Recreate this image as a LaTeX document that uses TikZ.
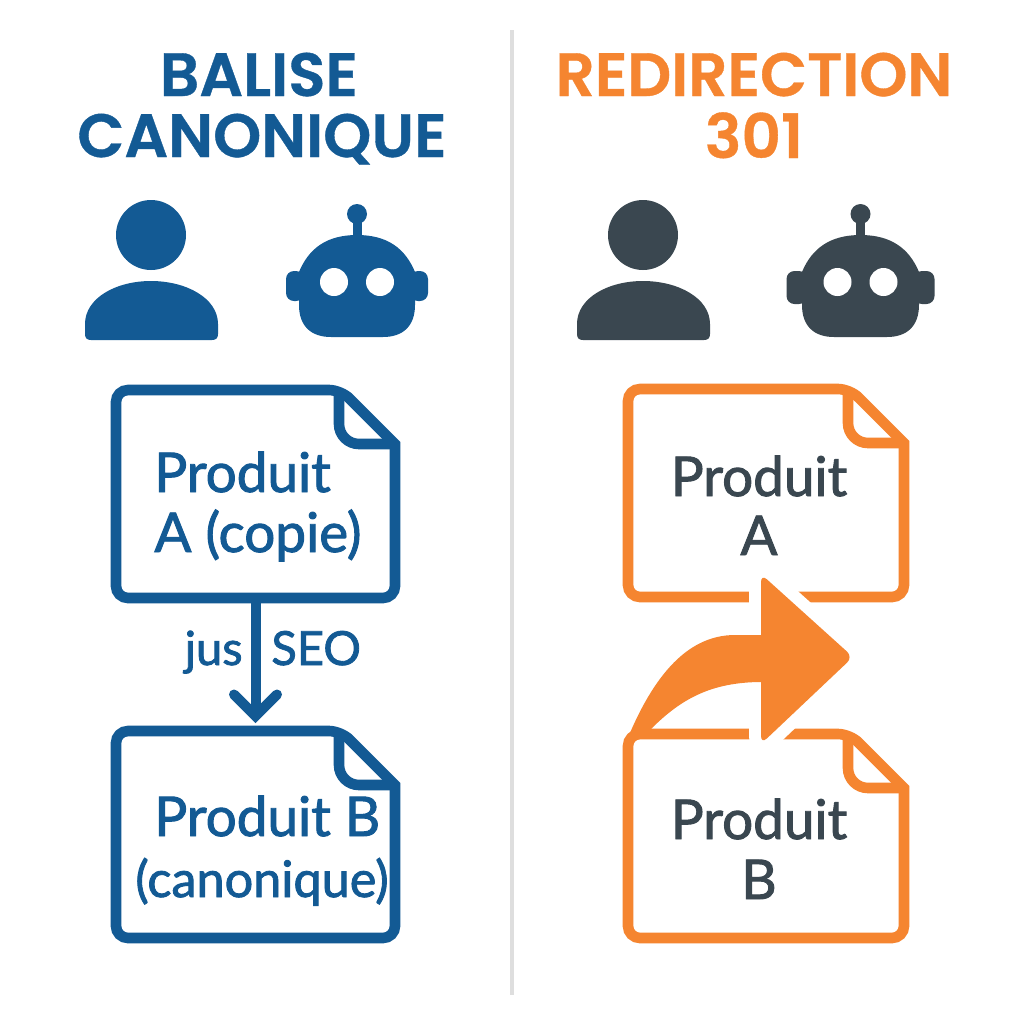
\documentclass[tikz,border=0pt]{standalone}
\usepackage{fontspec}
\newfontfamily\bodyfont{Lato}[RawFeature={embolden=1.7}]
\newfontfamily\titlefont{Poppins SemiBold}[RawFeature={embolden=0.6}]
\definecolor{blu}{HTML}{135A94}
\definecolor{ora}{HTML}{F58530}
\definecolor{drk}{HTML}{3A4750}
\definecolor{divi}{HTML}{DEDEDE}
\tikzset{
 titl/.style={anchor=base,inner sep=0pt,font=\titlefont\fontsize{30.6}{30}\selectfont},
 body/.style={anchor=base,inner sep=0pt,font=\bodyfont\fontsize{27.4}{28}\selectfont},
 lbl/.style={anchor=base,inner sep=0pt,font=\bodyfont\fontsize{23.5}{24}\selectfont},
 docline/.style={line width=5.3pt,line join=miter},
 box/.style={inner sep=0pt,minimum width=144.5pt,minimum height=109pt},
 headpath/.style={rounded corners=4pt},
}
\newcommand{\docshape}[5]{%
 \draw[docline,draw=#5,rounded corners=10pt] ({#3-56},#2) -- ({#3-56},{#2+54}) -- (#3,{#2+54});
 \draw[docline,draw=#5,rounded corners=6pt] ({#3-54},#2) [sharp corners] -- (#3,{#2+54}) [rounded corners=6pt] -- (#3,#4) -- (#1,#4) -- (#1,#2) -- cycle;
}
\newcommand{\personicon}[2]{%
 \fill[#2] (#1,235) circle[radius=35];
 \fill[#2] ({#1-66},334) -- ({#1-66},324) .. controls ({#1-66},298) and ({#1-35},281) .. (#1,281) .. controls ({#1+35},281) and ({#1+67},298) .. ({#1+67},324) -- ({#1+67},334) .. controls ({#1+67},338) and ({#1+65},340) .. ({#1+61},340) -- ({#1-60},340) .. controls ({#1-64},340) and ({#1-66},338) .. ({#1-66},334) -- cycle;
}
\newcommand{\roboticon}[4]{%
 \fill[#2] (#1,214) circle[radius=10];
 \fill[#2] ({#1-4.5},220) rectangle ({#1+4.5},240);
 \fill[#2,rounded corners=4pt] ({#1-#4},271) rectangle ({#1-#3+5},{#4+230});
 \fill[#2,rounded corners=4pt] ({#1+#3-5},271) rectangle ({#1+#4},{#4+230});
 \fill[#2] ({#1-#3},300) -- ({#1-#3},272) .. controls ({#1-#3+10},248) and ({#1-30},235) .. (#1,235) .. controls ({#1+30},235) and ({#1+#3-10},248) .. ({#1+#3},272) -- ({#1+#3},305) .. controls ({#1+#3},326) and ({#1+#3-12},337) .. ({#1+#3-32},337) -- ({#1-#3+32},337) .. controls ({#1-#3+12},337) and ({#1-#3},326) .. ({#1-#3},305) -- cycle;
 \fill[white] ({#1-23},282) circle[radius=14];
 \fill[white] ({#1+23},282) circle[radius=14];
}
\begin{document}
\begin{tikzpicture}[x=0.5pt,y=-0.5pt]
\useasboundingbox (0,0) rectangle (1024,1024);
\fill[white] (0,0) rectangle (1024,1024);
\fill[divi] (510,30) rectangle (514,995);
% titles
\node[titl,text=blu] (t1) at (259,96) {BALISE};
\node[titl,text=blu] (t2) at (262,157) {CANONIQUE};
\node[titl,text=ora] (t3) at (754,96) {REDIRECTION};
\node[titl,text=ora] (t4) at (754,158) {301};
% icons
\personicon{151}{blu}
\roboticon{357}{blu}{58}{71}
\personicon{643}{drk}
\roboticon{860.5}{drk}{58.5}{74}
% left docs
\node[box] (la) at (255.5,494) {};
\node[box] (lb) at (255.5,835) {};
\coordinate (tipl) at (255.5,716);
\docshape{116}{390}{395}{598}{blu}
\docshape{116}{731}{395}{938}{blu}
\draw[line width=5pt,blu] (la.south) -- (tipl);
\draw[line width=5pt,blu,line cap=round,line join=miter] (234,694.5) -- (tipl) -- (277,694.5);
\node[body,text=blu,anchor=base west] (p1) at (154,492) {Produit};
\node[body,text=blu,anchor=base west] (p2) at (154,552) {A (copie)};
\node[body,text=blu,anchor=base west] (p3) at (154,836) {Produit B};
\node[body,text=blu,font=\bodyfont\fontsize{25.2}{26}\selectfont] (p4) at (262,897) {(canonique)};
\node[lbl,text=blu,anchor=base east] (j) at (243,665) {jus};
\node[lbl,text=blu,anchor=base west] (s) at (271,665) {SEO};
% right docs
\docshape{628}{389}{904}{597}{ora}
\docshape{628}{734}{904}{938}{ora}
\draw[white,line width=12pt,line join=round,fill=white,headpath] (761,635) -- (761,574) -- (853,657) -- (761,744) -- (761,682) -- cycle;
\fill[ora,headpath] (761,635) -- (761,574) -- (853,657) -- (761,744) -- (761,682) -- cycle;
\fill[ora] (762,635) -- (735,635) .. controls (685,635) and (650,680) .. (623,750) -- (628,746) -- (651,729) .. controls (680,700) and (710,682) .. (762,682) -- cycle;
\node[body,text=drk] (q1) at (759,496) {Produit};
\node[body,text=drk] (q2) at (759,555) {A};
\node[body,text=drk] (q3) at (759,839) {Produit};
\node[body,text=drk] (q4) at (759,899) {B};
\end{tikzpicture}
\end{document}
